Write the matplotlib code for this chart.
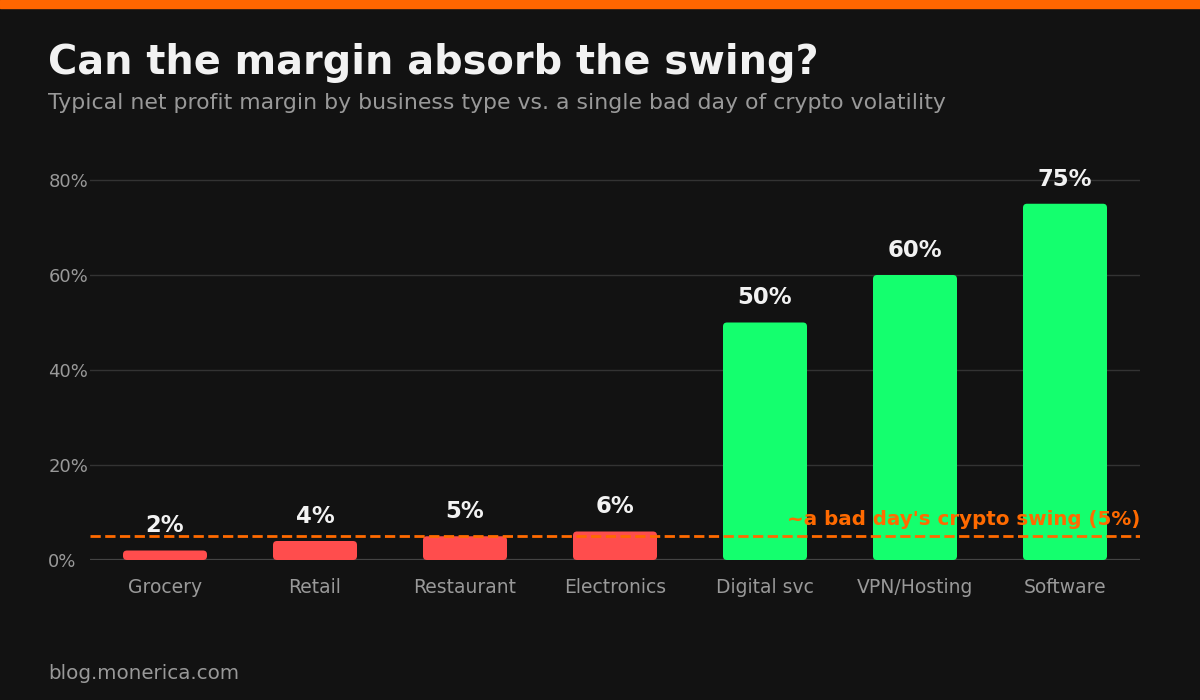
import matplotlib
matplotlib.use("Agg")
import matplotlib.pyplot as plt
from matplotlib.patches import FancyBboxPatch

plt.rcParams["font.family"] = ["DejaVu Sans"]

categories = ["Grocery", "Retail", "Restaurant", "Electronics", "Digital svc", "VPN/Hosting", "Software"]
margins = [2, 4, 5, 6, 50, 60, 75]
value_labels = ["2%", "4%", "5%", "6%", "50%", "60%", "75%"]
swing = 5
y_ticks = [0, 20, 40, 60, 80]
y_tick_labels = ["0%", "20%", "40%", "60%", "80%"]

BG = "#121212"
RED = "#FF4D4D"
GREEN = "#14FF6E"
ORANGE = "#FF6A00"

W, H = 1200, 700
fig = plt.figure(figsize=(12, 7), dpi=100, facecolor=BG)

# top stripe
fig.patches.append(plt.Rectangle((0, 1 - 8 / H), 1, 8 / H, transform=fig.transFigure,
                                 color="#FF6600", zorder=0))

ax_left, ax_right = 90, 1140
ax_bottom, ax_top = 560, 150
ax = fig.add_axes([ax_left / W, 1 - ax_bottom / H, (ax_right - ax_left) / W, (ax_bottom - ax_top) / H])
ax.set_facecolor(BG)
px_per_unit_y = 380 / 80
ax.set_ylim(0, (ax_bottom - ax_top) / px_per_unit_y)
ax.set_xlim(-0.5, len(categories) - 0.5)

for s in ax.spines.values():
    s.set_visible(False)

ax.set_yticks(y_ticks)
ax.set_yticklabels(y_tick_labels)
ax.yaxis.grid(True, color="#333333", linewidth=1)
ax.set_axisbelow(True)
ax.axhline(0, color="#444444", linewidth=1.6, zorder=1)
ax.tick_params(axis="y", length=0, pad=30, labelsize=13, labelcolor="#999999")
for lbl in ax.get_yticklabels():
    lbl.set_horizontalalignment("left")
ax.set_xticks(range(len(categories)))
ax.set_xticklabels(categories)
ax.tick_params(axis="x", length=0, pad=13, labelsize=13.5, labelcolor="#999999")

colors = [RED if m <= 10 else GREEN for m in margins]
bars = ax.bar(range(len(categories)), margins, width=0.56, color=colors)
px_per_unit_x = (ax_right - ax_left) / len(categories)
r_px = 4
aspect = (1 / px_per_unit_y) / (1 / px_per_unit_x)
for b, c in zip(bars, colors):
    x, y = b.get_x(), b.get_y()
    w, h = b.get_width(), b.get_height()
    b.set_visible(False)
    p = FancyBboxPatch((x, y), w, h,
                       boxstyle=f"round,pad=0,rounding_size={r_px / px_per_unit_x}",
                       mutation_aspect=aspect, facecolor=c, edgecolor="none", zorder=2)
    ax.add_patch(p)

for i, (m, t) in enumerate(zip(margins, value_labels)):
    ax.annotate(t, (i, m), xytext=(0, 13), textcoords="offset points",
                ha="center", va="baseline", fontsize=16.4, fontweight="bold", color="#F2F2F2")

ax.axhline(swing, color=ORANGE, linewidth=2, linestyle="--", zorder=3)
ax.annotate("~a bad day's crypto swing (5%)", (1, swing), xycoords=("axes fraction", "data"),
            xytext=(0, 8), textcoords="offset points", ha="right", va="baseline",
            fontsize=14.3, fontweight="bold", color=ORANGE, zorder=4)

fig.text(48 / W, 1 - 74 / H, "Can the margin absorb the swing?", fontsize=28.7, fontweight="bold",
         color="#F2F2F2", ha="left", va="baseline")
fig.text(48 / W, 1 - 109 / H, "Typical net profit margin by business type vs. a single bad day of crypto volatility",
         fontsize=15.8, color="#999999", ha="left", va="baseline")
fig.text(48 / W, 1 - 679 / H, "blog.monerica.com", fontsize=14.3, color="#999999", ha="left", va="baseline")

fig.savefig("out.png", dpi=100, facecolor=BG)
